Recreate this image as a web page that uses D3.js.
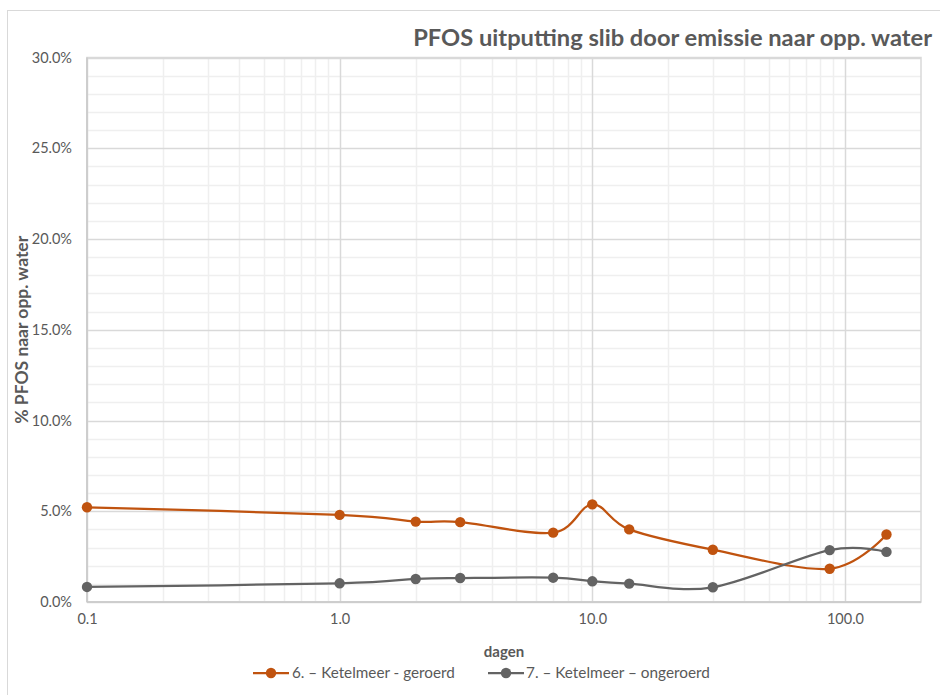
<!DOCTYPE html>
<html>
<head>
<meta charset="utf-8">
<script src="https://cdn.jsdelivr.net/npm/d3@7"></script>
<style>
  html, body { margin: 0; padding: 0; background: #fff; }
  svg { display: block; font-family: Lato, "Open Sans", sans-serif; }
</style>
</head>
<body>
<svg id="chart" width="940" height="695"></svg>
<script>
// Days since start of the test
const days = [0.1, 1, 2, 3, 7, 10, 14, 30, 87, 146];
// Share of PFOS released to surface water (fraction)
const geroerd   = [0.0522, 0.0480, 0.0443, 0.0440, 0.0382, 0.0538, 0.0400, 0.0288, 0.0183, 0.0372];
const ongeroerd = [0.0083, 0.0103, 0.0127, 0.0132, 0.0134, 0.0114, 0.0101, 0.0081, 0.0286, 0.0276];

const seriesNames = ["6. \u2013 Ketelmeer - geroerd", "7. \u2013 Ketelmeer \u2013 ongeroerd"];
const seriesColors = ["#c0530f", "#636363"];
const xTickValues = [0.1, 1, 10, 100];
const yTickValues = [0, 0.05, 0.10, 0.15, 0.20, 0.25, 0.30];

const titleText = "PFOS uitputting slib door emissie naar opp. water";
const xTitle = "dagen";
const yTitle = "% PFOS naar opp. water";

const svg = d3.select("#chart");
const plot = { left: 87, right: 921, top: 57.5, bottom: 602 };

const x = d3.scaleLog().domain([0.1, 200]).range([plot.left, plot.right]);
const y = d3.scaleLinear().domain([0, 0.30]).range([plot.bottom, plot.top]);

// fit a text element's font size so it spans the given width
function fitWidth(sel, target) {
  const node = sel.node();
  const fs = parseFloat(sel.attr("font-size"));
  const w = node.getComputedTextLength();
  sel.attr("font-size", (fs * target / w).toFixed(2));
}

// chart frame
svg.append("rect")
  .attr("x", 7.5).attr("y", 10.5).attr("width", 940).attr("height", 700)
  .attr("fill", "#fff").attr("stroke", "#d9d9d9").attr("stroke-width", 1);

// minor gridlines
const minorX = [];
[0.1, 1, 10, 100].forEach(d => { for (let k = 2; k <= 9; k++) { const v = +(k * d).toPrecision(3); if (v < 200) minorX.push(v); } });
const minorY = d3.range(0, 31).filter(i => i % 5 !== 0).map(i => i / 100);

const grid = svg.append("g");
grid.selectAll(".mx").data(minorX).join("line")
  .attr("x1", d => Math.round(x(d)) + 0.5).attr("x2", d => Math.round(x(d)) + 0.5)
  .attr("y1", plot.top).attr("y2", plot.bottom)
  .attr("stroke", "#efefef").attr("stroke-width", 1.5);
grid.selectAll(".my").data(minorY).join("line")
  .attr("x1", plot.left).attr("x2", plot.right)
  .attr("y1", d => Math.round(y(d)) + 0.5).attr("y2", d => Math.round(y(d)) + 0.5)
  .attr("stroke", "#efefef").attr("stroke-width", 1.5);

// major gridlines
grid.selectAll(".Mx").data(xTickValues).join("line")
  .attr("x1", d => Math.round(x(d)) + 0.5).attr("x2", d => Math.round(x(d)) + 0.5)
  .attr("y1", plot.top).attr("y2", plot.bottom)
  .attr("stroke", "#d9d9d9").attr("stroke-width", 1.5);
grid.selectAll(".My").data(yTickValues).join("line")
  .attr("x1", plot.left).attr("x2", plot.right)
  .attr("y1", d => Math.round(y(d)) + 0.5).attr("y2", d => Math.round(y(d)) + 0.5)
  .attr("stroke", "#d9d9d9").attr("stroke-width", 1.5);

// plot area border
svg.append("rect")
  .attr("x", plot.left).attr("y", plot.top)
  .attr("width", plot.right - plot.left).attr("height", plot.bottom - plot.top)
  .attr("fill", "none").attr("stroke", "#d9d9d9").attr("stroke-width", 1.5);

// axis lines
svg.append("line").attr("x1", plot.left).attr("x2", plot.left)
  .attr("y1", plot.top).attr("y2", plot.bottom).attr("stroke", "#c8c8c8").attr("stroke-width", 1.5);
svg.append("line").attr("x1", plot.left).attr("x2", plot.right)
  .attr("y1", plot.bottom).attr("y2", plot.bottom).attr("stroke", "#c8c8c8").attr("stroke-width", 1.5);

// axes (labels only; lines drawn above)
const fmtX = d3.format(".1f");
const fmtY = d3.format(".1%");
const xAxis = svg.append("g").attr("transform", `translate(0,${plot.bottom})`)
  .call(d3.axisBottom(x).tickValues(xTickValues).tickFormat(fmtX).tickSize(0).tickPadding(12));
const yAxis = svg.append("g").attr("transform", `translate(${plot.left},0)`)
  .call(d3.axisLeft(y).tickValues(yTickValues).tickFormat(fmtY).tickSize(0).tickPadding(15));
[xAxis, yAxis].forEach(a => {
  a.select(".domain").remove();
  a.selectAll("text").attr("fill", "#595959").attr("font-size", 14.5)
    .attr("font-family", "Lato, 'Open Sans', sans-serif");
});

// series
const line = d3.line().x(d => x(d[0])).y(d => y(d[1])).curve(d3.curveCardinal.tension(0));
const seriesData = [geroerd, ongeroerd].map(vals => days.map((d, i) => [d, vals[i]]));

seriesData.forEach((pts, si) => {
  const g = svg.append("g");
  g.append("path").datum(pts).attr("d", line)
    .attr("fill", "none").attr("stroke", seriesColors[si]).attr("stroke-width", 2.25);
  g.selectAll("circle").data(pts).join("circle")
    .attr("cx", d => x(d[0])).attr("cy", d => y(d[1])).attr("r", 5.2)
    .attr("fill", seriesColors[si]);
});

// title
const title = svg.append("text").attr("x", 932).attr("y", 46)
  .attr("text-anchor", "end").attr("font-weight", "bold").attr("font-size", 20)
  .attr("fill", "#595959").text(titleText);
fitWidth(title, 519);

// axis titles
svg.append("text").attr("x", (plot.left + plot.right) / 2).attr("y", 657)
  .attr("text-anchor", "middle").attr("font-weight", "bold").attr("font-size", 15)
  .attr("fill", "#595959").text(xTitle);

const yt = svg.append("text")
  .attr("transform", `translate(28,${(plot.top + plot.bottom) / 2}) rotate(-90)`)
  .attr("text-anchor", "middle").attr("font-weight", "bold").attr("font-size", 14.5)
  .attr("fill", "#595959").text(yTitle);
fitWidth(yt, 188);

// legend
const legend = svg.append("g");
const legendItems = [{ x0: 253, tx: 292, w: 163 }, { x0: 488, tx: 526, w: 184 }];
legendItems.forEach((it, i) => {
  const ly = 673;
  legend.append("line").attr("x1", it.x0).attr("x2", it.x0 + 36)
    .attr("y1", ly).attr("y2", ly).attr("stroke", seriesColors[i]).attr("stroke-width", 2.25);
  legend.append("circle").attr("cx", it.x0 + 18).attr("cy", ly).attr("r", 5.2).attr("fill", seriesColors[i]);
  const t = legend.append("text").attr("x", it.tx).attr("y", ly + 5)
    .attr("font-size", 14).attr("fill", "#595959").text(seriesNames[i]);
  fitWidth(t, it.w);
});
</script>
</body>
</html>
